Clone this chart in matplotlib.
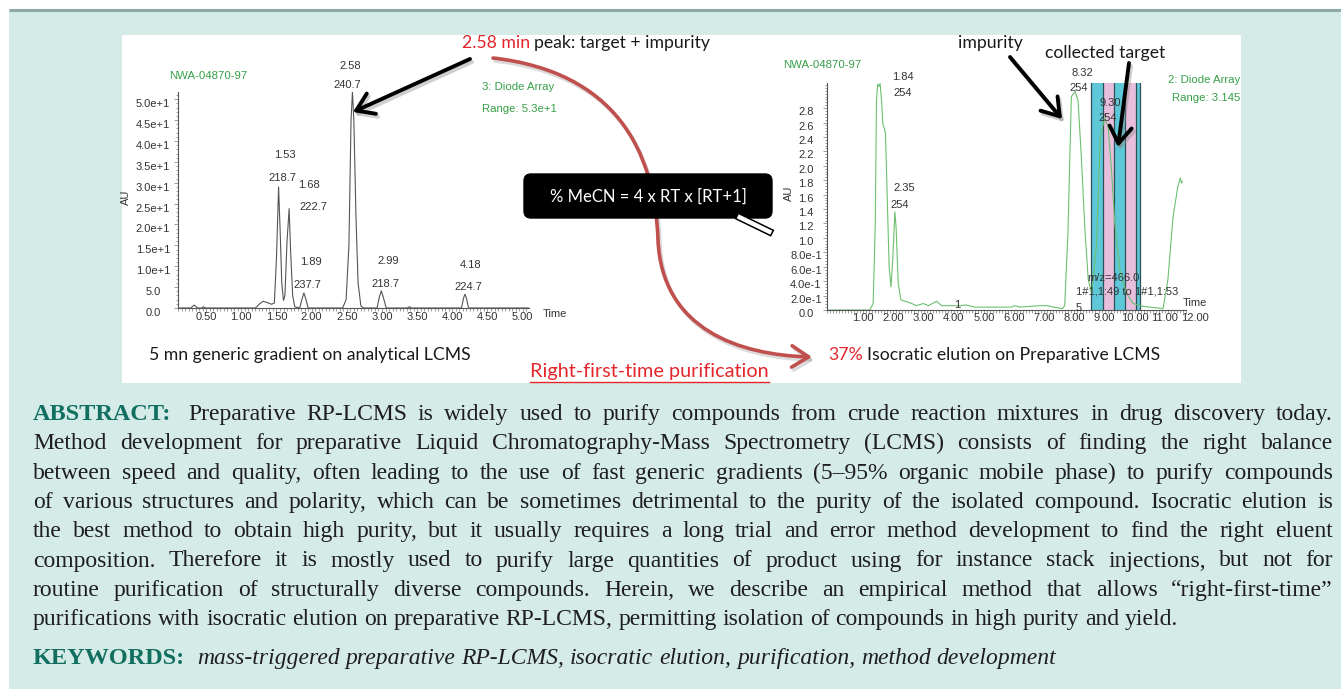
import numpy as np
import matplotlib
matplotlib.use("Agg")
import matplotlib.pyplot as plt
from matplotlib.patches import Rectangle, FancyBboxPatch, FancyArrowPatch, Polygon
from matplotlib.path import Path
from matplotlib.ticker import MultipleLocator
from matplotlib.transforms import ScaledTranslation

# ---------------- analytical LCMS run (5 min generic gradient) ----------------
ana_time = [0.10, 0.28, 0.33, 0.38, 0.44, 0.46, 0.49, 1.20, 1.26, 1.31, 1.37, 1.43,
            1.47, 1.50, 1.53, 1.555, 1.575, 1.60, 1.62, 1.65, 1.68, 1.70, 1.73, 1.76,
            1.83, 1.86, 1.89, 1.92, 1.95, 2.44, 2.49, 2.53, 2.56, 2.58, 2.60, 2.63,
            2.66, 2.70, 2.74, 2.93, 2.96, 2.99, 3.02, 3.06, 3.36, 3.39, 3.42,
            4.13, 4.16, 4.18, 4.20, 4.23, 5.09]
ana_au = [0.0, 0.0, 0.7, 0.0, 0.0, 0.3, 0.0, 0.0, 1.0, 1.6, 1.3, 0.9,
          1.2, 12.0, 29.0, 17.0, 6.0, 1.8, 3.0, 16.0, 23.8, 14.0, 3.0, 0.3,
          0.0, 2.0, 3.6, 2.0, 0.0, 0.0, 2.0, 15.0, 45.0, 51.7, 45.0, 22.0,
          6.0, 0.5, 0.0, 0.0, 2.5, 4.1, 2.5, 0.0, 0.0, 0.3, 0.0,
          0.0, 2.4, 3.3, 2.4, 0.0, 0.0]
ana_peak_rt = [2.58, 1.53, 1.68, 1.89, 2.99, 4.18]
ana_peak_nm = ["240.7", "218.7", "222.7", "237.7", "218.7", "224.7"]
ana_xticks = [0.5, 1.0, 1.5, 2.0, 2.5, 3.0, 3.5, 4.0, 4.5, 5.0]
ana_xticklabels = ["0.50", "1.00", "1.50", "2.00", "2.50", "3.00", "3.50", "4.00", "4.50", "5.00"]
ana_yticks = [0, 5, 10, 15, 20, 25, 30, 35, 40, 45, 50]
ana_yticklabels = ["0.0", "5.0", "1.0e+1", "1.5e+1", "2.0e+1", "2.5e+1", "3.0e+1",
                   "3.5e+1", "4.0e+1", "4.5e+1", "5.0e+1"]

# ---------------- preparative LCMS run (37% isocratic) ----------------
prep_time = [0.10, 1.52, 1.63, 1.70, 1.74, 1.78, 1.82, 1.86, 1.91, 1.95, 2.00, 2.04,
             2.10, 2.16, 2.22, 2.28, 2.35, 2.39, 2.46, 2.55, 2.85, 3.07, 3.29, 3.46,
             3.73, 3.90, 4.50, 4.70, 5.00, 6.20, 6.32, 6.50, 7.15, 7.40, 7.60, 7.90,
             7.98, 8.09, 8.20, 8.32, 8.42, 8.53, 8.65, 8.76, 8.87, 9.03, 9.16, 9.30,
             9.42, 9.53, 9.64, 9.81, 10.03, 10.25, 10.58, 11.24, 11.40, 11.57, 11.73,
             11.81, 11.85, 11.88]
prep_au = [0.0, 0.0, 0.09, 1.2, 2.9, 3.13, 3.10, 3.14, 2.9, 2.58, 2.52, 2.45,
           1.5, 0.6, 0.32, 0.7, 1.36, 1.15, 0.37, 0.14, 0.10, 0.06, 0.09, 0.06,
           0.12, 0.06, 0.06, 0.07, 0.04, 0.04, 0.06, 0.04, 0.06, 0.06, 0.04, 0.02,
           0.06, 1.11, 2.96, 3.03, 2.91, 2.13, 1.11, 0.42, 0.23, 0.88, 2.40, 2.66,
           2.54, 1.94, 1.20, 0.55, 0.23, 0.09, 0.05, 0.02, 0.42, 1.29, 1.71,
           1.83, 1.76, 1.78]
prep_peak_rt = [1.84, 2.35, 8.32, 9.30]
prep_peak_nm = ["254", "254", "254", "254"]
frac_edges = [8.86, 9.25, 9.60, 9.99, 10.35, 10.46]
frac_colors = ["#5ec8d8", "#e7bedb", "#5ec8d8", "#e7bedb", "#5ec8d8"]
prep_xticks = [1, 2, 3, 4, 5, 6, 7, 8, 9, 10, 11, 12]
prep_xticklabels = ["1.00", "2.00", "3.00", "4.00", "5.00", "6.00", "7.00", "8.00",
                    "9.00", "10.00", "11.00", "12.00"]
prep_yticks = [0.0, 0.2, 0.4, 0.6, 0.8, 1.0, 1.2, 1.4, 1.6, 1.8, 2.0, 2.2, 2.4, 2.6, 2.8]
prep_yticklabels = ["0.0", "2.0e-1", "4.0e-1", "6.0e-1", "8.0e-1", "1.0", "1.2", "1.4",
                    "1.6", "1.8", "2.0", "2.2", "2.4", "2.6", "2.8"]

abstract_lines = [
    "Preparative RP-LCMS is widely used to purify compounds from crude reaction mixtures in drug discovery today.",
    "Method development for preparative Liquid Chromatography-Mass Spectrometry (LCMS) consists of finding the right balance",
    "between speed and quality, often leading to the use of fast generic gradients (5\u201395% organic mobile phase) to purify compounds",
    "of various structures and polarity, which can be sometimes detrimental to the purity of the isolated compound. Isocratic elution is",
    "the best method to obtain high purity, but it usually requires a long trial and error method development to find the right eluent",
    "composition. Therefore it is mostly used to purify large quantities of product using for instance stack injections, but not for",
    "routine purification of structurally diverse compounds. Herein, we describe an empirical method that allows \u201cright-first-time\u201d",
    "purifications with isocratic elution on preparative RP-LCMS, permitting isolation of compounds in high purity and yield.",
]
keywords = "mass-triggered preparative RP-LCMS, isocratic elution, purification, method development"

# ---------------- figure ----------------
W, H, DPI = 1341, 689, 100
fig = plt.figure(figsize=(W / DPI, H / DPI), dpi=DPI)
fig.patch.set_facecolor("white")

SANS = ["Liberation Sans", "DejaVu Sans"]
CAL = ["Lato", "DejaVu Sans"]
SERIF = ["Liberation Serif", "DejaVu Serif"]
GREEN = "#36a048"
RED = "#e4262b"
TEAL = "#116f60"
TXT = "#333333"
CFS = 12.7


def rect(l, t, r, b):
    return [l / W, 1 - b / H, (r - l) / W, (b - t) / H]


bg = fig.add_axes([0, 0, 1, 1], zorder=0)
bg.set_xlim(0, W)
bg.set_ylim(H, 0)
bg.axis("off")
bg.add_patch(Rectangle((9, 10), W - 9, H - 10, fc="#d5ebe7", ec="none"))
bg.plot([9, W], [10, 10], color="#8ea9a3", lw=2.2, solid_capstyle="butt")
bg.add_patch(Rectangle((122, 35), 1241 - 122, 383 - 35, fc="white", ec="none"))


def style_axes(ax):
    ax.set_facecolor("none")
    for s in ("top", "right"):
        ax.spines[s].set_visible(False)
    for s in ("left", "bottom"):
        ax.spines[s].set_color("#555555")
        ax.spines[s].set_linewidth(0.8)
    ax.tick_params(which="both", labelleft=False, labelbottom=False,
                   color="#777777", width=0.5, direction="out")
    ax.tick_params(which="major", length=3)
    ax.tick_params(which="minor", length=1.8)


def tick_labels(ax, xt, xl, yt, yl, xoff, yoff):
    tx = ax.get_xaxis_transform() + ScaledTranslation(xoff[0] / DPI, xoff[1] / DPI, fig.dpi_scale_trans)
    for v, s in zip(xt, xl):
        ax.text(v, 0, s, transform=tx, ha="center", va="center", fontsize=8,
                family=SANS, color=TXT)
    ty = ax.get_yaxis_transform() + ScaledTranslation(yoff[0] / DPI, yoff[1] / DPI, fig.dpi_scale_trans)
    for v, s in zip(yt, yl):
        ax.text(0, v, s, transform=ty, ha="center", va="center", fontsize=8,
                family=SANS, color=TXT)


def peak_labels(ax, t, a, rts, nms, offs):
    for rt, nm, (o1, o2) in zip(rts, nms, offs):
        h = float(np.interp(rt, t, a))
        ax.annotate(f"{rt:.2f}", (rt, h), xytext=o1, textcoords="offset pixels",
                    ha="center", va="center", fontsize=8, family=SANS, color=TXT)
        ax.annotate(nm, (rt, h), xytext=o2, textcoords="offset pixels",
                    ha="center", va="center", fontsize=8, family=SANS, color=TXT)


# analytical chromatogram
axL = fig.add_axes(rect(178, 91.7, 529, 308), zorder=5)
axL.plot(ana_time, ana_au, color="#555555", lw=0.8)
axL.set_xlim(0.10, 5.09)
axL.set_ylim(0, 51.8)
axL.set_xticks(ana_xticks)
axL.set_yticks(ana_yticks)
axL.xaxis.set_minor_locator(MultipleLocator(0.05))
axL.yaxis.set_minor_locator(MultipleLocator(1))
style_axes(axL)
tick_labels(axL, ana_xticks, ana_xticklabels, ana_yticks, ana_yticklabels,
            (0, -9), (-25, -5))
peak_labels(axL, ana_time, ana_au, ana_peak_rt, ana_peak_nm,
            [((-2, 26), (-5, 7)), ((6, 32), (4, 9)), ((20, 24), (24, 2)),
             ((7, 31), (3, 8)), ((7, 30), (4, 7)), ((6, 29), (3, 7))])

# preparative chromatogram with collected fractions
axR = fig.add_axes(rect(827, 83.2, 1186, 310), zorder=5)
for e0, e1, c in zip(frac_edges[:-1], frac_edges[1:], frac_colors):
    axR.axvspan(e0, e1, fc=c, ec="none")
for e in frac_edges:
    axR.axvline(e, color="#2d4f58", lw=0.9)
axR.plot(prep_time, prep_au, color="#6cc070", lw=0.8)
axR.set_xlim(0.10, 12.0)
axR.set_ylim(0, 3.145)
axR.set_xticks(prep_xticks)
axR.set_yticks(prep_yticks)
axR.xaxis.set_minor_locator(MultipleLocator(0.1))
axR.yaxis.set_minor_locator(MultipleLocator(0.04))
style_axes(axR)
tick_labels(axR, prep_xticks, prep_xticklabels, prep_yticks, prep_yticklabels,
            (9, -8), (-21, -4))
peak_labels(axR, prep_time, prep_au, prep_peak_rt, prep_peak_nm,
            [((23, 8), (23, -8)), ((9, 24), (5, 7)), ((7, 18), (4, 3)), ((6, 15), (3, 0))])

# ---------------- overlay: annotations, arrows, text ----------------
ov = fig.add_axes([0, 0, 1, 1], zorder=10)
ov.set_xlim(0, W)
ov.set_ylim(H, 0)
ov.axis("off")
ov.patch.set_visible(False)
r = fig.canvas.get_renderer()


def T(x, y, s, **kw):
    kw.setdefault("va", "center")
    kw.setdefault("ha", "left")
    return ov.text(x, y, s, **kw)


# instrument annotations
T(169, 76, "NWA-04870-97", fontsize=8.2, family=SANS, color=GREEN)
T(482, 87, "3: Diode Array", fontsize=8.2, family=SANS, color=GREEN)
T(482, 109, "Range: 5.3e+1", fontsize=8.2, family=SANS, color=GREEN)
T(783, 65, "NWA-04870-97", fontsize=8.2, family=SANS, color=GREEN)
T(1240, 80, "2: Diode Array", fontsize=8.2, family=SANS, color=GREEN, ha="right")
T(1240, 98, "Range: 3.145", fontsize=8.2, family=SANS, color=GREEN, ha="right")
T(126, 197, "AU", fontsize=8, family=SANS, color=TXT, rotation=90, ha="center")
T(789, 193, "AU", fontsize=8, family=SANS, color=TXT, rotation=90, ha="center")
T(555, 314, "Time", fontsize=8, family=SANS, color=TXT, ha="center")
T(1195, 303, "Time", fontsize=8, family=SANS, color=TXT, ha="center")
T(1113, 278, "m/z=466.0", fontsize=8, family=SANS, color=TXT, ha="center")
T(1127, 292, "1#1,1:49 to 1#1,1:53", fontsize=8, family=SANS, color=TXT, ha="center")
T(1079, 308, "5", fontsize=8, family=SANS, color=TXT, ha="center")
T(957, 305, "1", fontsize=8, family=SANS, color=TXT, ha="center")

# captions
T(149, 355, "5 mn generic gradient on analytical LCMS", fontsize=CFS, family=CAL, color="#1a1a1a")
t37 = T(828, 355, "37%", fontsize=CFS, family=CAL, color=RED)
w37 = t37.get_window_extent(r).width
T(828 + w37 + 4, 355, "Isocratic elution on Preparative LCMS", fontsize=CFS, family=CAL, color="#1a1a1a")
t258 = T(462, 43, "2.58 min", fontsize=CFS, family=CAL, color=RED)
w258 = t258.get_window_extent(r).width
T(462 + w258 + 4, 43, "peak: target + impurity", fontsize=CFS, family=CAL, color="#1a1a1a")
T(958, 43, "impurity", fontsize=CFS, family=CAL, color="#1a1a1a")
T(1045, 53, "collected target", fontsize=CFS, family=CAL, color="#1a1a1a")
trf = T(530, 372, "Right-first-time purification", fontsize=14.3, family=CAL, color=RED)
wrf = trf.get_window_extent(r).width
ov.plot([530, 530 + wrf], [382, 382], color=RED, lw=1.0)

# red curved arrow
arc = Path([(493, 58), (615, 72), (655, 150), (658, 240), (662, 330), (740, 355), (812, 357)],
           [Path.MOVETO, Path.CURVE4, Path.CURVE4, Path.CURVE4, Path.CURVE4, Path.CURVE4, Path.CURVE4])
arc_sh = Path(np.array(arc.vertices) + [2, 3], arc.codes)
ov.add_patch(FancyArrowPatch(path=arc_sh, arrowstyle="->,head_length=0.55,head_width=0.35",
                             mutation_scale=22, lw=2.6, color="#999999", alpha=0.35))
ov.add_patch(FancyArrowPatch(path=arc, arrowstyle="->,head_length=0.55,head_width=0.35",
                             mutation_scale=22, lw=2.6, color="#c0504d"))

# black arrows
for (x0, y0), (x1, y1) in [((470, 59), (353, 112)), ((1010, 57), (1062, 119)),
                           ((1129, 63), (1118, 147))]:
    ov.add_patch(FancyArrowPatch((x0 + 2, y0 + 3), (x1 + 2, y1 + 3),
                                 arrowstyle="->,head_length=0.6,head_width=0.4",
                                 mutation_scale=20, lw=2.8, color="#888888", alpha=0.4,
                                 shrinkA=0, shrinkB=0))
    ov.add_patch(FancyArrowPatch((x0, y0), (x1, y1),
                                 arrowstyle="->,head_length=0.6,head_width=0.4",
                                 mutation_scale=20, lw=2.8, color="black",
                                 shrinkA=0, shrinkB=0))

# formula callout
ov.add_patch(FancyBboxPatch((524, 174), 248, 44, boxstyle="round,pad=0,rounding_size=7",
                            fc="black", ec="black", lw=1))
p0, p1 = np.array([737.0, 216.0]), np.array([772.0, 233.0])
d = (p1 - p0) / np.linalg.norm(p1 - p0)
n = np.array([-d[1], d[0]]) * 3.0
ov.add_patch(Polygon([p0 + n, p1 + n, p1 - n, p0 - n], closed=True, fc="white", ec="black", lw=1.1))
T(648, 197, "% MeCN = 4 x RT x [RT+1]", fontsize=12, family=CAL, color="white", ha="center")

# ---------------- abstract ----------------
FS = 17
SP = 0.25 * FS * DPI / 72


def place_line(y, words, x0=33, x1=1333, justify=True):
    arts, widths = [], []
    for s, kw, _ in words:
        t = ov.text(0, y, s, ha="left", va="baseline", **kw)
        arts.append(t)
        widths.append(t.get_window_extent(r).width)
    extra = sum(e for _, _, e in words[:-1])
    gap = (x1 - x0 - sum(widths) - extra) / (len(words) - 1) if justify else SP
    x = x0
    for t, w, (_, _, e) in zip(arts, widths, words):
        t.set_x(x)
        x += w + gap + e


body = dict(fontsize=FS, family=SERIF, color="#1e1e1e")
label = dict(fontsize=17.5, family=SERIF, color=TEAL, weight="bold")
ital = dict(fontsize=FS, family=SERIF, color="#1e1e1e", style="italic")

y0 = 420
for i, line in enumerate(abstract_lines):
    words = [(w, body, 0) for w in line.split()]
    if i == 0:
        words = [("ABSTRACT:", label, SP)] + words
    place_line(y0 + 29.3 * i, words, justify=(i < len(abstract_lines) - 1))

kw_words = [("KEYWORDS:", label, SP)] + [(w, ital, 0) for w in keywords.split()]
place_line(664, kw_words, justify=False)

fig.savefig("out.png", dpi=DPI)
